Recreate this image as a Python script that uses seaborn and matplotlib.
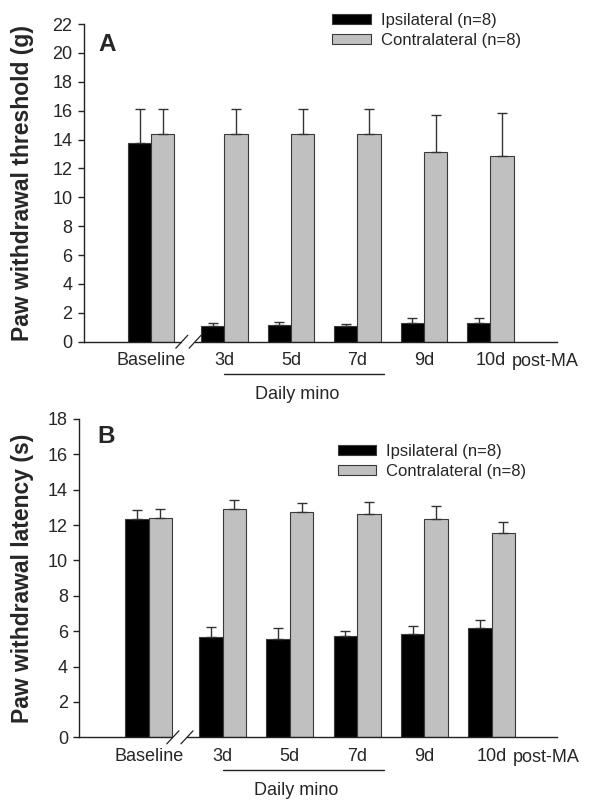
import numpy as np
import pandas as pd
import seaborn as sns
import matplotlib.pyplot as plt
import matplotlib.transforms as mtransforms
from matplotlib.container import BarContainer

# ---------------------------------------------------
# data
# ---------------------------------------------------
days = ["Baseline", "3d", "5d", "7d", "9d", "10d"]
sides = ["Ipsilateral (n=8)", "Contralateral (n=8)"]

# A: paw withdrawal threshold (g), mean and upper SEM
thr_ipsi = [13.74, 1.08, 1.15, 1.08, 1.27, 1.32]
thr_ipsi_err = [2.35, 0.19, 0.19, 0.14, 0.35, 0.34]
thr_contra = [14.36, 14.36, 14.36, 14.36, 13.11, 12.88]
thr_contra_err = [1.78, 1.78, 1.78, 1.78, 2.59, 2.98]

# B: paw withdrawal latency (s)
lat_ipsi = [12.36, 5.67, 5.54, 5.75, 5.82, 6.18]
lat_ipsi_err = [0.49, 0.59, 0.62, 0.28, 0.46, 0.44]
lat_contra = [12.42, 12.89, 12.74, 12.63, 12.34, 11.57]
lat_contra_err = [0.49, 0.53, 0.51, 0.66, 0.76, 0.62]
# ---------------------------------------------------

sns.set_style("ticks")
plt.rcParams["font.family"] = ["Liberation Sans", "DejaVu Sans"]

# little extra room after baseline (axis break)
pos = np.arange(len(days)) + 0.1 * (np.arange(len(days)) > 0)

fig = plt.figure(figsize=(5.9, 8.09), dpi=100)
axA = fig.add_axes([0.1424, 0.5776, 0.8017, 0.3927])
axB = fig.add_axes([0.1346, 0.0886, 0.8090, 0.3935])


def panel(ax, ipsi, ipsi_err, contra, contra_err, ymax, ylabel, letter,
          xlim, leg_xy, slash_x, letter_xy):
    df = pd.DataFrame({
        "pos": np.r_[pos, pos],
        "side": np.repeat(sides, len(days)),
        "val": list(ipsi) + list(contra),
    })
    sns.barplot(data=df, x="pos", y="val", hue="side", hue_order=sides,
                palette=["black", "#c0c0c0"], native_scale=True, width=0.7,
                errorbar=None, saturation=1, edgecolor="#3a3a3a",
                linewidth=0.8, ax=ax)

    # one sided error bars on top of each bar
    errs = {"ipsi": ipsi_err, "contra": contra_err}
    bar_conts = [c for c in ax.containers if isinstance(c, BarContainer)]
    for cont in bar_conts:
        for bar in cont:
            key = "ipsi" if bar.get_facecolor()[0] < 0.3 else "contra"
            x = bar.get_x() + bar.get_width() / 2
            h = bar.get_height()
            k = int(np.argmin(np.abs(pos - x)))
            ax.errorbar(x, h, yerr=[[0], [errs[key][k]]], fmt="none",
                        ecolor="#333333", elinewidth=1, capsize=3.6,
                        capthick=1, zorder=1)

    ax.set_xlim(*xlim)
    ax.set_ylim(0, ymax)
    ax.set_yticks(np.arange(0, ymax + 1, 2))
    ax.set_xticks(pos)
    ax.set_xticklabels(days)
    ax.set_xlabel("")
    ax.set_ylabel("")
    sns.despine(ax=ax)
    for s in ["left", "bottom"]:
        ax.spines[s].set_color("#222222")
        ax.spines[s].set_linewidth(1)
    ax.tick_params(axis="x", length=0, pad=7.5, labelsize=13)
    ax.tick_params(axis="y", length=4.3, width=1, pad=4, labelsize=13,
                   color="#222222")

    leg = ax.get_legend()
    handles = leg.legend_handles
    labels = [t.get_text() for t in leg.get_texts()]
    ax.legend(handles, labels, loc="upper left", bbox_to_anchor=leg_xy,
              frameon=False, fontsize=12, handlelength=2.3,
              handleheight=0.55, handletextpad=0.6, labelspacing=0.3,
              borderpad=0, borderaxespad=0)

    ax.text(letter_xy[0], letter_xy[1], letter, transform=ax.transAxes,
            fontsize=17.5, fontweight="bold", ha="left", va="center")

    bb = ax.get_position()
    fig.text(0.0385, bb.y0 + bb.height / 2, ylabel, rotation=90,
             ha="center", va="center", fontsize=16.5, fontweight="bold")

    trans = mtransforms.blended_transform_factory(ax.transData, ax.transAxes)
    # "post-MA" next to last tick label
    ax.annotate("post-MA", xy=(pos[-1] + 0.315, 0),
                xycoords=("data", "axes fraction"), xytext=(0, -14.4),
                textcoords="offset points", ha="left", va="center",
                fontsize=13)
    # daily mino bracket
    off = mtransforms.ScaledTranslation(0, -0.325, fig.dpi_scale_trans)
    ax.plot([pos[1], pos[3] + 0.4], [0, 0], transform=trans + off,
            color="#222222", lw=1, clip_on=False)
    ax.annotate("Daily mino", xy=(2.2, 0),
                xycoords=("data", "axes fraction"), xytext=(0, -38),
                textcoords="offset points", ha="center", va="center",
                fontsize=13)

    # axis break on the x axis
    dy = 6.5 / (bb.height * 809)
    ax.plot(slash_x, [0, 0], transform=trans, color="white", lw=3,
            clip_on=False, zorder=4, solid_capstyle="butt")
    for xc in slash_x:
        ax.plot([xc - 0.09, xc + 0.09], [-dy, dy], transform=trans,
                color="#222222", lw=0.9, clip_on=False, zorder=5)


panel(axA, thr_ipsi, thr_ipsi_err, thr_contra, thr_contra_err, 22,
      "Paw withdrawal threshold (g)", "A", (-1.01, 6.10),
      (0.525, 1.036), [0.46, 0.66], (0.030, 0.935))
panel(axB, lat_ipsi, lat_ipsi_err, lat_contra, lat_contra_err, 18,
      "Paw withdrawal latency (s)", "B", (-1.03, 6.07),
      (0.541, 0.921), [0.36, 0.57], (0.038, 0.944))

fig.savefig("out.png", dpi=100)
